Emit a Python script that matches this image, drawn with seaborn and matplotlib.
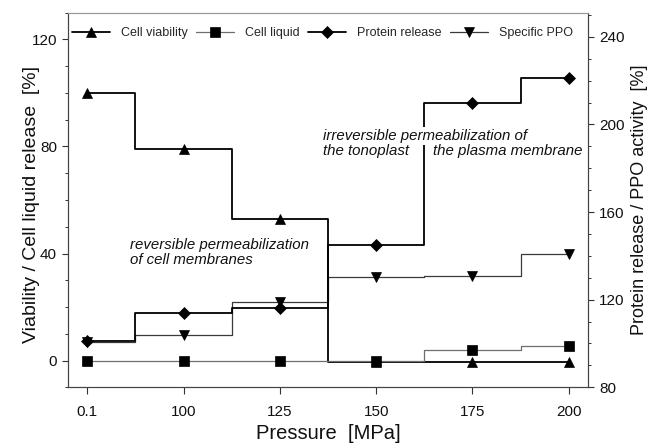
import numpy as np
import pandas as pd
import matplotlib
matplotlib.use('Agg')
import matplotlib.pyplot as plt
from matplotlib.ticker import MultipleLocator, FixedLocator
import seaborn as sns

# ---- data ----
pressure_labels = ['0.1', '100', '125', '150', '175', '200']
cell_viability = [100, 79, 53, -0.5, -0.5, -0.5]
cell_liquid = [0, 0, 0, 0, 4, 5.3]
protein_release = [101, 114, 116, 145, 210, 221]
specific_ppo = [100.5, 104, 119, 130.5, 131, 141]

left_ticks = [0, 40, 80, 120]
right_ticks = [80, 120, 160, 200, 240]

sns.set_theme(style='ticks')
plt.rcParams['font.family'] = ['Liberation Sans', 'DejaVu Sans']

df = pd.DataFrame({
    'pos': np.arange(len(pressure_labels)),
    'viability': cell_viability,
    'liquid': cell_liquid,
    'protein': protein_release,
    'ppo': specific_ppo,
})

W, H = 648, 445
x0, x1, ytop, ybot = 68, 588, 12.7, 387.3
fig = plt.figure(figsize=(W / 100, H / 100), dpi=100)
ax = fig.add_axes([x0 / W, 1 - ybot / H, (x1 - x0) / W, (ybot - ytop) / H])
ax2 = ax.twinx()

base = dict(drawstyle='steps-mid', errorbar=None, markeredgecolor='black',
            markerfacecolor='black', markeredgewidth=0.5)

sns.lineplot(data=df, x='pos', y='viability', ax=ax, color='black', linewidth=1.3,
             marker='^', markersize=7.2, label='Cell viability', legend=False, **base)
sns.lineplot(data=df, x='pos', y='liquid', ax=ax, color='#6e6e6e', linewidth=0.9,
             marker='s', markersize=7.0, label='Cell liquid', legend=False, **base)
sns.lineplot(data=df, x='pos', y='ppo', ax=ax2, color='#3a3a3a', linewidth=0.9,
             marker='v', markersize=7.4, label='Specific PPO', legend=False, **base)
sns.lineplot(data=df, x='pos', y='protein', ax=ax2, color='black', linewidth=1.3,
             marker='D', markersize=6.2, label='Protein release', legend=False, **base)

# axes ranges & ticks
ax.set_xlim(-0.2, 5.2)
ax.set_ylim(-10, 130)
ax2.set_ylim(80, 251)
ax.set_xticks(df['pos'])
ax.set_xticklabels(pressure_labels)
ax.yaxis.set_major_locator(FixedLocator(left_ticks))
ax.yaxis.set_minor_locator(MultipleLocator(10))
ax2.yaxis.set_major_locator(FixedLocator(right_ticks))
ax2.yaxis.set_minor_locator(MultipleLocator(10))

for a in (ax, ax2):
    a.tick_params(axis='both', which='major', direction='out', length=4.5, width=0.8,
                  color='#333333', labelsize=11, labelcolor='#111111')
    a.tick_params(axis='both', which='minor', direction='out', length=2.5, width=0.7,
                  color='#333333')
    for s in a.spines.values():
        s.set_linewidth(0.8)
        s.set_color('#444444')
    a.set_xlabel('')
    a.set_ylabel('')
ax.tick_params(axis='x', which='major', length=5, pad=8)
ax.spines['top'].set_color('#999999')
ax2.spines['top'].set_color('#999999')

ax.set_xlabel('Pressure  [MPa]', fontsize=14.5, color='#111111')
ax.xaxis.set_label_coords(0.5, (ybot - 424) / (ybot - ytop))
ax.set_ylabel('Viability / Cell liquid release  [%]', fontsize=14, color='#111111')
ax.yaxis.set_label_coords((40 - x0) / (x1 - x0), 0.487)
ax2.set_ylabel('Protein release / PPO activity  [%]', fontsize=13, color='#111111')
ax2.yaxis.set_label_coords((631 - x0) / (x1 - x0), 0.5)

# legend
l_ax = ax.get_lines()
l_ax2 = ax2.get_lines()
handles = [l_ax[0], l_ax[1], l_ax2[1], l_ax2[0]]
labels = ['Cell viability', 'Cell liquid', 'Protein release', 'Specific PPO']
ax2.legend(handles, labels, loc='center left',
           bbox_to_anchor=((72 - x0) / (x1 - x0), (ybot - 33) / (ybot - ytop)),
           ncol=4, frameon=False, fontsize=9, handlelength=3.0, handletextpad=0.9,
           columnspacing=0.7, borderpad=0, borderaxespad=0, numpoints=1)

# annotations
def fx(px):
    return (px - x0) / (x1 - x0)

def fy(py):
    return (ybot - py) / (ybot - ytop)

tkw = dict(transform=ax2.transAxes, fontsize=10.8, style='italic', color='#111111',
           ha='left', va='center', zorder=5)
ax2.text(fx(130), fy(245), 'reversible permeabilization', **tkw)
ax2.text(fx(130), fy(260), 'of cell membranes', **tkw)
ax2.text(fx(322.7), fy(136), 'irreversible permeabilization of',
         bbox=dict(facecolor='white', edgecolor='none', pad=1.5), **tkw)
ax2.text(fx(322.7), fy(151), 'the tonoplast', **tkw)
ax2.text(fx(433), fy(151), 'the plasma membrane', **tkw)

fig.savefig('out.png', dpi=100)
